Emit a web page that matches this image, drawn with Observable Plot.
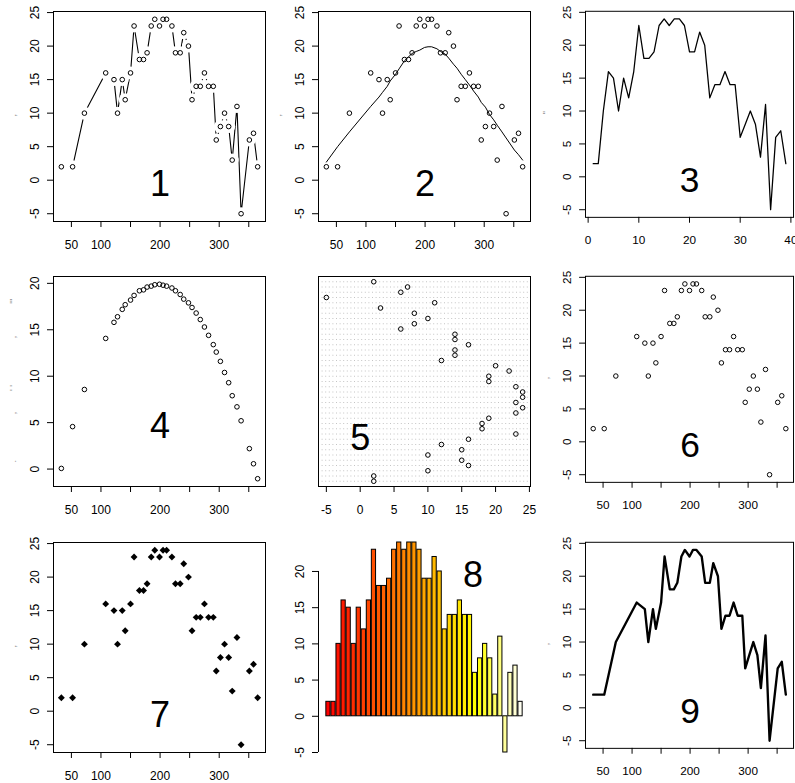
<!DOCTYPE html>
<html><head><meta charset="utf-8">
<script src="https://cdn.jsdelivr.net/npm/d3@7"></script>
<script src="https://cdn.jsdelivr.net/npm/@observablehq/plot@0.6"></script>
<style>
html,body{margin:0;padding:0;background:#fff;}
#wrap{position:relative;width:795px;height:783px;overflow:hidden;background:#fff;}
.cell{position:absolute;}
.cell svg{display:block;}
</style></head><body><div id="wrap"></div>
<script>
// ---- data ----
const dayX = [33, 52, 72, 108, 122, 128, 136, 141, 150, 156, 165, 172, 178, 185, 191, 199, 205, 211, 220, 226,
              234, 240, 248, 254, 261, 268, 275, 282, 290, 295, 302, 309, 316, 322, 330, 337, 351, 358, 365];
const yVals = [2, 2, 10, 16, 15, 10, 15, 12, 16, 23, 18, 18, 19, 23, 24, 23, 24, 24, 23, 19,
               19, 22, 20, 12, 14, 14, 16, 14, 14, 6, 8, 10, 8, 3, 11, -5, 6, 7, 2];
const smoothY = [2.7, 5.0, 7.2, 11.0, 12.4, 13.1, 14.0, 14.8, 15.8, 16.6, 17.8, 18.4, 18.9, 19.2, 19.4, 19.8, 19.9, 19.9, 19.6, 19.2,
                 18.8, 18.2, 17.3, 16.7, 15.8, 15.0, 14.2, 13.3, 12.4, 11.6, 10.9, 9.8, 9.0, 8.2, 7.2, 6.3, 4.5, 3.8, 3.0];
const fitY = [0.07, 4.57, 8.57, 14.07, 15.8, 16.4, 17.2, 17.7, 18.2, 18.7, 19.2, 19.3, 19.6, 19.7, 19.85, 19.9, 19.8, 19.7, 19.5, 19.2,
              18.8, 18.3, 17.9, 17.4, 16.8, 16.1, 15.3, 14.4, 13.4, 12.6, 11.6, 10.4, 9.3, 7.9, 6.7, 5.2, 2.2, 0.57, -1.04];
const dayTicks = [50, 100, 150, 200, 250, 300, 350];
const dayLabels = ["50", "100", "", "200", "", "300", ""];
const valueTicks = [-5, 0, 5, 10, 15, 20, 25];
const fitTicks = [0, 5, 10, 15, 20];
const indexTicks = [0, 10, 20, 30, 40];
const barTicks = [-5, 0, 5, 10, 15, 20];
const panelNumbers = ["1", "2", "3", "4", "5", "6", "7", "8", "9"];

// ---- build ----
const pts = dayX.map((x, k) => ({x, y: yVals[k], i: k + 1, s: smoothY[k], f: fitY[k]}));
const n = pts.length;
const dayLabelOf = new Map(dayTicks.map((t, k) => [t, dayLabels[k]]));

// R heat.colors(n)
const heat = (() => {
  const j = Math.floor(n / 4), m = n - j, out = [];
  for (let k = 0; k < m; k++) { const g = Math.round(255 * k / (m - 1)); out.push(d3.rgb(255, g, 0).formatHex()); }
  for (let k = 0; k < j; k++) {
    const s = (1 - 1 / (2 * j)) + k * ((1 / (2 * j)) - (1 - 1 / (2 * j))) / (j - 1);
    out.push(d3.rgb(255, 255, Math.round(255 * (1 - s))).formatHex());
  }
  return out;
})();

function ext(v) { const [a, b] = d3.extent(v); const r = (b - a) * 0.04; return [a - r, b + r]; }

const FONT = "'Liberation Sans', Arial, Helvetica, sans-serif";
const W = 267, H = 266;
const margins = {marginTop: 11, marginRight: 2, marginBottom: 45, marginLeft: 53};
const cellPos = [[0, 0], [265, 0], [533, 0], [0, 265], [265, 265], [533, 265], [0, 531], [265, 531], [533, 531]];

const num = d => String(d);
const axX = (ticks, fmt) => Plot.axisX(ticks, {tickSize: 6, tickPadding: 13, label: null, fontSize: 12, tickFormat: fmt});
const axY = (ticks) => Plot.axisY(ticks, {tickSize: 6, tickPadding: 9, tickRotate: -90, label: null, fontSize: 12, tickFormat: num});
const dayFmt = d => dayLabelOf.get(d);
const numText = (k, x, y) => Plot.text([{x, y, t: panelNumbers[k]}], {x: "x", y: "y", text: "t", fontSize: 36, dy: 4, fill: "black"});
const ylabMark = (t) => Plot.text([t], {frameAnchor: "left", dx: -40, rotate: -90, fontSize: 9, fill: "#888"});
const openDots = (yKey) => Plot.dot(pts, {x: "x", y: yKey, r: 2.3, stroke: "black", strokeWidth: 1, fill: "none"});

const dayDom = ext(dayX), valDom = ext(yVals);

function plot(opts) {
  return Plot.plot({
    width: W, height: H, ...margins,
    style: {fontFamily: FONT, fontSize: "12px", color: "black", background: "transparent", overflow: "visible"},
    ...opts
  });
}

const panels = [];
// 1: type "b"
panels.push(plot({
  x: {domain: dayDom}, y: {domain: valDom},
  marks: [
    Plot.line(pts, {x: "x", y: "y", stroke: "black", strokeWidth: 1.1}),
    Plot.dot(pts, {x: "x", y: "y", r: 6.5, fill: "white", stroke: null}),
    openDots("y"),
    numText(0, 200, 0), ylabMark(","),
    Plot.frame({stroke: "black"}), axX(dayTicks, dayFmt), axY(valueTicks)
  ]
}));
// 2: points + smooth
panels.push(plot({
  x: {domain: dayDom}, y: {domain: valDom},
  marks: [
    Plot.line(pts, {x: "x", y: "s", stroke: "black", strokeWidth: 1}),
    openDots("y"),
    numText(1, 200, 0), ylabMark(","),
    Plot.frame({stroke: "black"}), axX(dayTicks, dayFmt), axY(valueTicks)
  ]
}));
// 3: line vs index
panels.push(plot({
  x: {domain: ext(pts.map(d => d.i))}, y: {domain: valDom},
  marks: [
    Plot.line(pts, {x: "i", y: "y", stroke: "black", strokeWidth: 1.3}),
    numText(2, 20, 0), ylabMark("''"),
    Plot.frame({stroke: "black"}), axX(indexTicks, num), axY(valueTicks)
  ]
}));
// 4: fitted points
panels.push(plot({
  x: {domain: dayDom}, y: {domain: ext(fitY)},
  marks: [
    openDots("f"),
    numText(3, 200, 5),
    Plot.text([{t: "'''", y: 17.8}, {t: ",", y: 14.1}, {t: "' '", y: 8.4}, {t: ",", y: 5.9}, {t: ".", y: 0.7}],
      {y: "y", text: "t", frameAnchor: "left", dx: -40, rotate: -90, fontSize: 9, fill: "#888"}),
    Plot.frame({stroke: "black"}), axX(dayTicks, dayFmt), axY(fitTicks)
  ]
}));
// 5: dotchart
panels.push(plot({
  x: {domain: valDom}, y: {domain: [0, n + 1], axis: null},
  marks: [
    Plot.ruleY(pts, {y: "i", stroke: "#c4c4c4", strokeDasharray: "1,2.6"}),
    Plot.dot(pts, {x: "y", y: "i", r: 2.3, stroke: "black", strokeWidth: 1, fill: "none"}),
    numText(4, 0, 10),
    Plot.frame({stroke: "black"}), axX(valueTicks, num)
  ]
}));
// 6: points
panels.push(plot({
  x: {domain: dayDom}, y: {domain: valDom},
  marks: [
    openDots("y"),
    numText(5, 200, 0), ylabMark(","),
    Plot.frame({stroke: "black"}), axX(dayTicks, dayFmt), axY(valueTicks)
  ]
}));
// 7: filled diamonds
panels.push(plot({
  x: {domain: dayDom}, y: {domain: valDom},
  marks: [
    Plot.dot(pts, {x: "x", y: "y", symbol: "diamond2", r: 3.1, fill: "black", stroke: null}),
    numText(6, 200, 0), ylabMark(","),
    Plot.frame({stroke: "black"}), axX(dayTicks, dayFmt), axY(valueTicks)
  ]
}));
// 8: barplot with heat colours
const barDom = [(-0.04 * (1.2 * n - 0.2) + 0.2 - 0.1) / 1.2 + 1, (1.2 * n + 0.04 * (1.2 * n - 0.2) - 0.1) / 1.2 + 1];
panels.push(plot({
  x: {domain: barDom, axis: null}, y: {domain: d3.extent(yVals)},
  marks: [
    Plot.rectY(pts, {x: "i", interval: 1, y: "y", fill: d => heat[d.i - 1], stroke: "black", strokeWidth: 1, insetLeft: 0.42, insetRight: 0.42}),
    numText(7, (35 - 0.1) / 1.2 + 1, 20),
    Plot.ruleX([barDom[0]], {y1: barTicks[0], y2: barTicks[barTicks.length - 1], stroke: "black"}),
    axY(barTicks)
  ]
}));
// 9: thick line
panels.push(plot({
  x: {domain: dayDom}, y: {domain: valDom},
  marks: [
    Plot.line(pts, {x: "x", y: "y", stroke: "black", strokeWidth: 2.4}),
    numText(8, 200, 0), ylabMark(","),
    Plot.frame({stroke: "black"}), axX(dayTicks, dayFmt), axY(valueTicks)
  ]
}));

const wrap = document.getElementById("wrap");
panels.forEach((p, k) => {
  const div = document.createElement("div");
  div.className = "cell";
  div.style.left = cellPos[k][0] + "px";
  div.style.top = cellPos[k][1] + "px";
  div.appendChild(p);
  wrap.appendChild(div);
});
</script></body></html>
